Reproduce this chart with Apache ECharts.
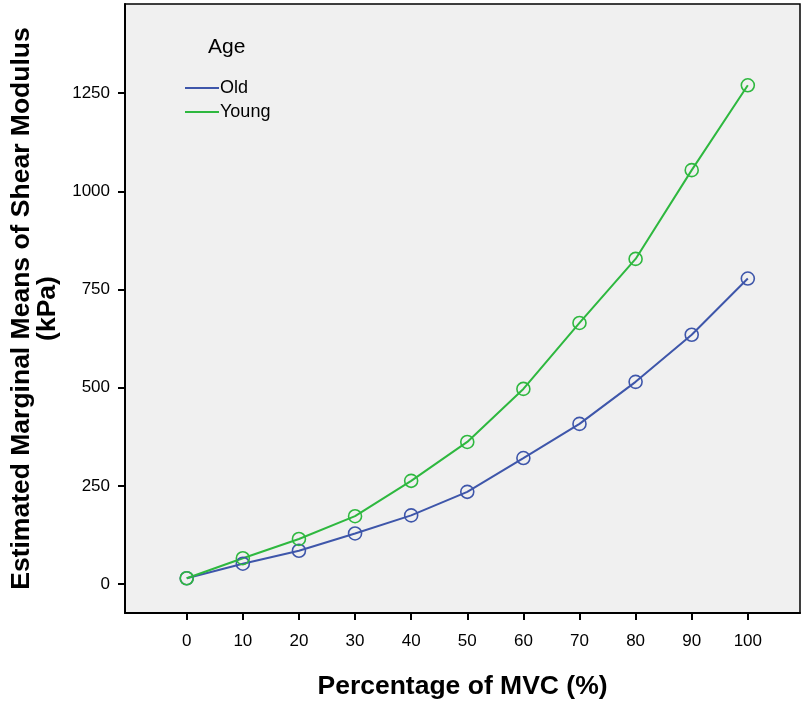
<!DOCTYPE html>
<html>
<head>
<meta charset="utf-8">
<script src="https://cdn.jsdelivr.net/npm/echarts@6/dist/echarts.min.js"></script>
<style>
  html, body { margin: 0; padding: 0; background: #fff; }
  #chart { width: 801px; height: 706px; }
</style>
</head>
<body>
<div id="chart"></div>
<script>
  // percentage of MVC
  var mvc = [0, 10, 20, 30, 40, 50, 60, 70, 80, 90, 100];
  // estimated marginal means (kPa)
  var oldVals = [15, 52, 85, 129, 175, 235, 321, 408, 515, 635, 778];
  var youngVals = [15, 66, 115, 173, 263, 362, 497, 665, 828, 1054, 1270];
  var xTicks = [0, 10, 20, 30, 40, 50, 60, 70, 80, 90, 100];
  var yTicks = [0, 250, 500, 750, 1000, 1250];

  var blue = '#3e56aa';
  var green = '#2eb83f';
  var font = 'Liberation Sans, Arial, sans-serif';

  function pairs(ys) {
    return mvc.map(function (x, i) { return [x, ys[i]]; });
  }

  var myChart = echarts.init(document.getElementById('chart'));
  myChart.setOption({
    animation: false,
    textStyle: { fontFamily: font },
    grid: { left: 125, right: 1, top: 4, bottom: 93 },
    graphic: [
      {
        // plot frame / background
        type: 'rect', z: -10, silent: true,
        shape: { x: 125, y: 4, width: 675, height: 609 },
        style: { fill: '#f0f0f0', stroke: '#000', lineWidth: 1.5 }
      },
      {
        type: 'text', left: 208, top: 37, z: 10,
        style: { text: 'Age', fontSize: 21, fill: '#000', fontFamily: font }
      }
    ],
    legend: {
      orient: 'vertical',
      left: 180, top: 74,
      itemGap: 6,
      itemWidth: 34, itemHeight: 2,
      textStyle: { fontSize: 18, color: '#000', padding: [0, 0, 0, -4] },
      data: [
        { name: 'Old', icon: 'rect', itemStyle: { color: blue, borderWidth: 0 } },
        { name: 'Young', icon: 'rect', itemStyle: { color: green, borderWidth: 0 } }
      ]
    },
    xAxis: {
      type: 'value', z: 5,
      min: -11, max: 109.3,
      name: 'Percentage of MVC (%)',
      nameLocation: 'middle',
      nameGap: 60,
      nameTextStyle: { fontSize: 26.5, fontWeight: 'bold', color: '#000' },
      splitLine: { show: false },
      axisLine: { onZero: false, lineStyle: { color: '#000', width: 2 } },
      axisTick: { show: true, customValues: xTicks, length: 7, lineStyle: { color: '#000', width: 2 } },
      axisLabel: { customValues: xTicks, fontSize: 17, color: '#000', margin: 20 }
    },
    yAxis: {
      type: 'value', z: 5,
      min: -73.5, max: 1477,
      name: 'Estimated Marginal Means of Shear Modulus\n(kPa)',
      nameLocation: 'middle',
      nameGap: 64,
      nameTextStyle: { fontSize: 26.5, fontWeight: 'bold', color: '#000', lineHeight: 26 },
      splitLine: { show: false },
      axisLine: { show: true, onZero: false, lineStyle: { color: '#000', width: 2 } },
      axisTick: { show: true, customValues: yTicks, length: 7, lineStyle: { color: '#000', width: 2 } },
      axisLabel: {
        customValues: yTicks, fontSize: 17, color: '#000', margin: 15,
        formatter: function (v) { return String(v); }
      }
    },
    series: [
      {
        name: 'Old', type: 'line', data: pairs(oldVals),
        symbol: 'circle', symbolSize: 13,
        lineStyle: { color: blue, width: 2 },
        itemStyle: { color: 'rgba(0,0,0,0)', borderColor: blue, borderWidth: 1.6 }
      },
      {
        name: 'Young', type: 'line', data: pairs(youngVals),
        symbol: 'circle', symbolSize: 13,
        lineStyle: { color: green, width: 2 },
        itemStyle: { color: 'rgba(0,0,0,0)', borderColor: green, borderWidth: 1.6 }
      }
    ]
  });
</script>
</body>
</html>
